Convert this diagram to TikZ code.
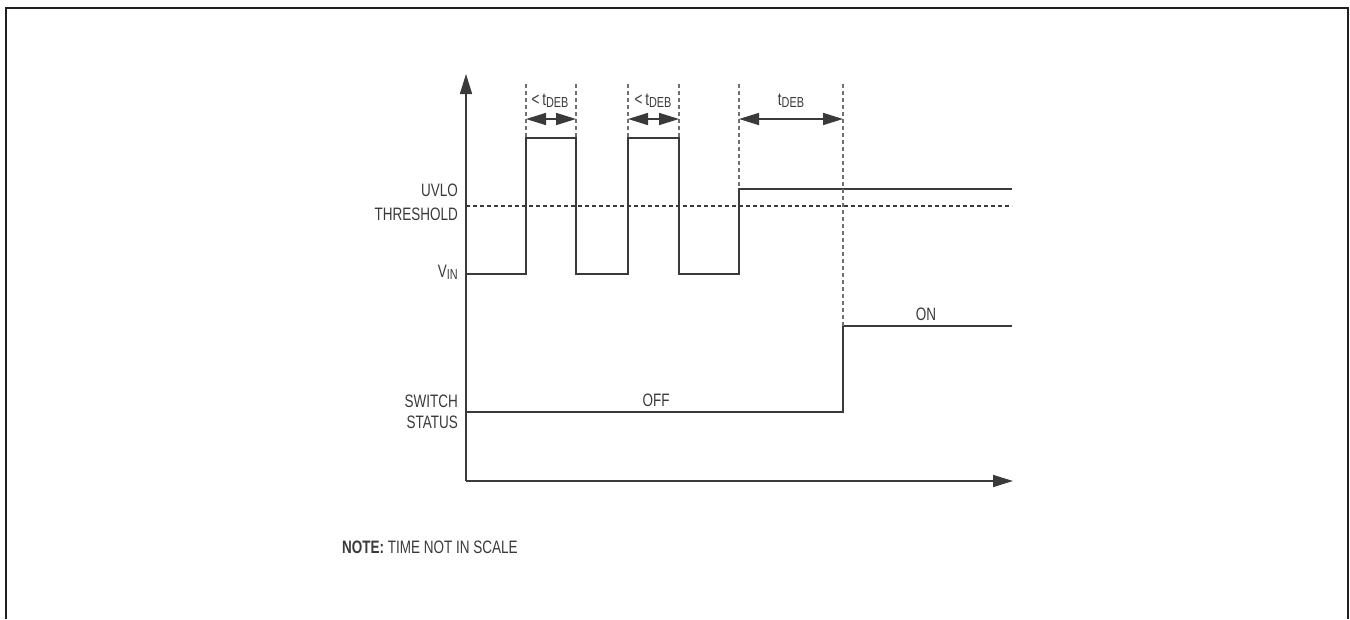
\documentclass[tikz,border=0pt]{standalone}
\usepackage{fontspec}
\setmainfont{Liberation Sans}[FakeStretch=0.75]
\usetikzlibrary{arrows.meta}
\definecolor{frame}{HTML}{231F20}
\definecolor{sig}{HTML}{3A3A3A}
\definecolor{dsh}{HTML}{707070}
\newcommand\lowsub[1]{\raisebox{-2pt}{\fontsize{14.5}{15}\selectfont #1}}
\tikzset{
  lbl/.style={font=\fontsize{18}{20}\selectfont, text=sig, inner sep=0pt},
  sigline/.style={draw=sig, line width=1.6pt},
  guide/.style={draw=dsh, line width=1.1pt, dash pattern=on 4pt off 3pt},
  thr/.style={draw=sig, line width=1.1pt, dash pattern=on 4pt off 3pt},
  bigtip/.style={-{Triangle[length=20pt,width=12pt]}},
  dbltip/.style={{Triangle[length=20pt,width=12pt]}-{Triangle[length=20pt,width=12pt]}},
}
\begin{document}
\begin{tikzpicture}[x=1pt,y=-1pt]
\useasboundingbox (0,0) rectangle (1350,619);
% frame (open at bottom)
\draw[frame, line width=2pt] (6,619) -- (6,7.5) -- (1348,7.5) -- (1348,619);

% axes
\coordinate (O) at (466,481);
\coordinate (ytop) at (466,74);
\coordinate (xend) at (1013,481);
\draw[sigline, bigtip] (O) -- (ytop);
\draw[sigline, bigtip] (O) -- (xend);

% UVLO threshold
\coordinate (thrA) at (466,206);
\coordinate (thrB) at (1012,206);
\draw[thr] (thrA) -- (thrB);

% VIN waveform
\draw[sigline] (466,274) -- (526,274) -- (526,138) -- (576,138) -- (576,274)
  -- (628,274) -- (628,138) -- (679,138) -- (679,274) -- (739,274) -- (739,189) -- (1012,189);

% switch status
\draw[sigline] (466,412) -- (843,412) -- (843,326) -- (1012,326);

% guide lines
\coordinate (g1) at (526,84); \coordinate (g2) at (576,84);
\coordinate (g3) at (628,84); \coordinate (g4) at (679,84);
\coordinate (g5) at (739,84); \coordinate (g6) at (843,84);
\draw[guide] (g1) -- (526,138);
\draw[guide] (g2) -- (576,138);
\draw[guide] (g3) -- (628,138);
\draw[guide] (g4) -- (679,138);
\draw[guide] (g5) -- (739,189);
\draw[guide] (g6) -- (843,326);

% tDEB arrows
\draw[sigline, dbltip] (526,119) -- (576,119);
\draw[sigline, dbltip] (628,119) -- (679,119);
\draw[sigline, dbltip] (739,119) -- (843,119);

% labels
\node[lbl] (l1) at (550,101) {<\,t\lowsub{DEB}};
\node[lbl] (l2) at (653,101) {<\,t\lowsub{DEB}};
\node[lbl] (l3) at (791,101) {t\lowsub{DEB}};
\node[lbl, anchor=east] (uvlo) at (458,190) {UVLO};
\node[lbl, anchor=east] (thrl) at (458,214) {THRESHOLD};
\node[lbl, anchor=east] (vin) at (458,272) {V\lowsub{IN}};
\node[lbl, anchor=east] (sw) at (458,401) {SWITCH};
\node[lbl, anchor=east] (st) at (458,422) {STATUS};
\node[lbl] (off) at (656,400) {OFF};
\node[lbl] (on) at (926,314) {ON};
\node[lbl, anchor=west] (note) at (342,547) {\textbf{NOTE:} TIME NOT IN SCALE};
\end{tikzpicture}
\end{document}
